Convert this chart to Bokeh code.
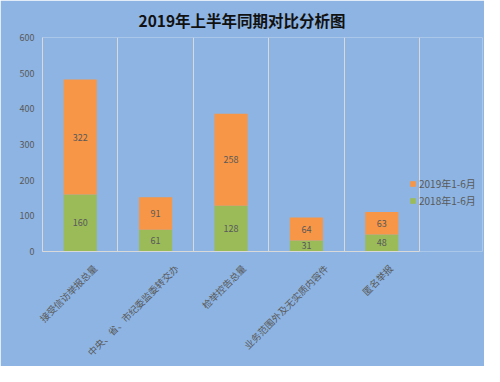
import math
import numpy as np
from bokeh.plotting import figure
from bokeh.models import FixedTicker, Legend, LegendItem, ColumnDataSource
from bokeh.core.properties import value
from bokeh.embed import file_html
from bokeh.resources import INLINE

categories = ["接受信访举报总量", "中央、省、市纪委监委转交办", "检举控告总量", "业务范围外及无实质内容件", "匿名举报"]
s2018 = [160, 61, 128, 31, 48]
s2019 = [322, 91, 258, 64, 63]
series_names = ["2018年1-6月", "2019年1-6月"]
y_ticks = [0, 100, 200, 300, 400, 500, 600]
title_text = "2019年上半年同期对比分析图"

BG = "#8DB4E2"
ORANGE = "#F79646"
GREEN = "#9BBB59"
GRID = "#D9D9D9"
TXT = "#595959"
FONT = "Noto Sans CJK SC"

W, H = 484, 366
LEFT, TOP, BOTTOM = 42, 37, 114
GRID_W = 377                      # pixel width of the category area
FRAME_W = W - LEFT - 2
n = len(categories)
px_per_unit = GRID_W / n
x_end = FRAME_W / px_per_unit
label_dx_px = [15, 21, 13, 20, 9]  # horizontal nudge of rotated category labels

centers = list(np.arange(n) + 0.5)
label_ticks = [c + d / px_per_unit for c, d in zip(centers, label_dx_px)]

src = ColumnDataSource(dict(
    x=centers,
    a=s2018,
    b=s2019,
    ya=[v / 2 for v in s2018],
    yb=[a + b / 2 for a, b in zip(s2018, s2019)],
    ta=[str(v) for v in s2018],
    tb=[str(v) for v in s2019],
))

p = figure(width=W, height=H, output_backend="svg", toolbar_location=None,
           x_range=(0, x_end), y_range=(0, 600),
           min_border_left=LEFT, min_border_right=2, min_border_top=TOP, min_border_bottom=BOTTOM)
p.background_fill_color = BG
p.border_fill_color = BG
p.outline_line_color = None

p.title.text = title_text
p.title.align = "left"
p.title.offset = 96
p.title.standoff = 13
p.title.text_font = FONT
p.title.text_font_size = "15.5px"
p.title.text_font_style = "bold"
p.title.text_color = "#111111"

rs = p.vbar_stack(["a", "b"], x="x", width=0.44, source=src, color=[GREEN, ORANGE], line_color=None)

p.text(x="x", y="ya", text="ta", source=src, text_align="center", text_baseline="middle",
       text_font=value(FONT), text_font_size="9px", text_color=TXT)
p.text(x="x", y="yb", text="tb", source=src, text_align="center", text_baseline="middle",
       text_font=value(FONT), text_font_size="9px", text_color=TXT)

# axes
p.xaxis.bounds = (0, n)
p.xaxis.ticker = FixedTicker(ticks=label_ticks)
p.xaxis.major_label_overrides = {t: lab for t, lab in zip(label_ticks, categories)}
p.xaxis.major_label_orientation = math.pi / 4
p.xaxis.major_tick_line_color = None
p.xaxis.minor_tick_line_color = None
p.xaxis.major_tick_out = 0
p.xaxis.major_tick_in = 0
p.xaxis.minor_tick_out = 0
p.xaxis.minor_tick_in = 0
p.xaxis.axis_line_color = GRID
p.xaxis.major_label_text_font = FONT
p.xaxis.major_label_text_font_size = "9.5px"
p.xaxis.major_label_text_color = TXT
p.xaxis.major_label_standoff = 15

p.yaxis.ticker = FixedTicker(ticks=y_ticks)
p.yaxis.major_tick_line_color = None
p.yaxis.minor_tick_line_color = None
p.yaxis.major_tick_out = 0
p.yaxis.minor_tick_out = 0
p.yaxis.axis_line_color = GRID
p.yaxis.major_label_text_font = FONT
p.yaxis.major_label_text_font_size = "9px"
p.yaxis.major_label_text_color = TXT
p.yaxis.major_label_standoff = 8

p.xgrid.ticker = FixedTicker(ticks=list(range(0, n + 1)))
p.xgrid.grid_line_color = GRID
p.ygrid.grid_line_color = None

legend = Legend(items=[LegendItem(label=series_names[1], renderers=[rs[1]]),
                       LegendItem(label=series_names[0], renderers=[rs[0]])],
                location=(367, 43), padding=0, margin=0, spacing=2,
                glyph_width=7, glyph_height=7, label_height=11, label_standoff=3,
                label_text_font=FONT, label_text_font_size="10px", label_text_color=TXT,
                background_fill_alpha=0, border_line_alpha=0)
p.add_layout(legend, "center")

open("out.html", "w").write(file_html(p, INLINE))
